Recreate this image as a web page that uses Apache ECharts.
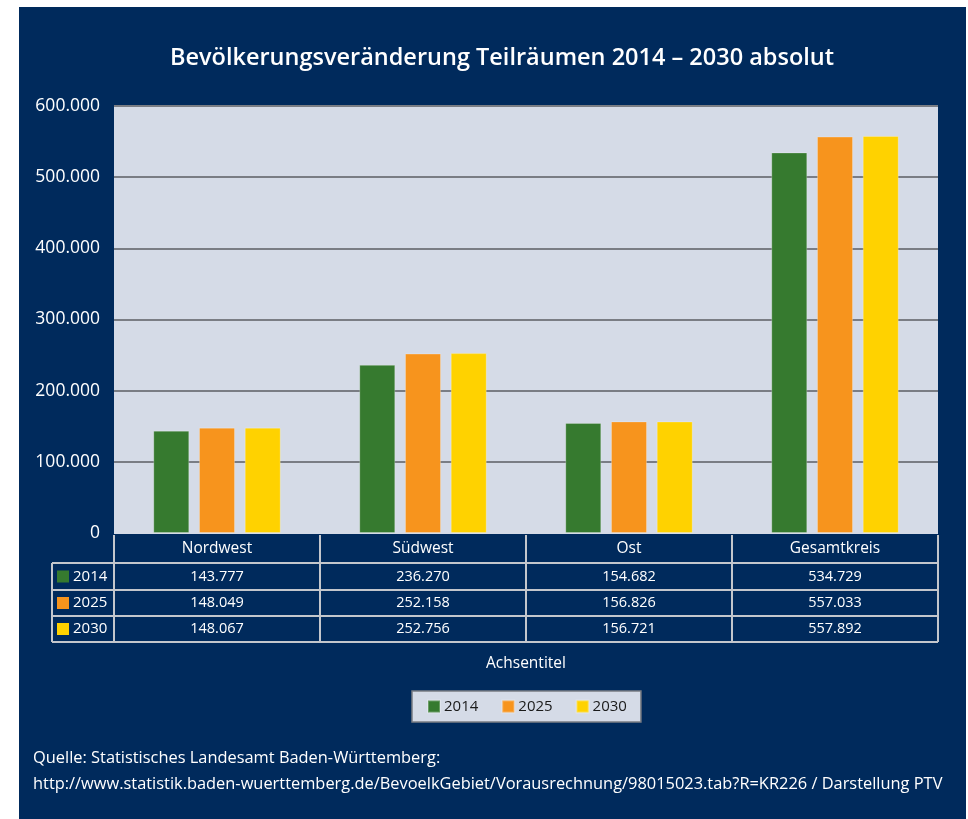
<!DOCTYPE html>
<html><head><meta charset="utf-8">
<script src="https://cdn.jsdelivr.net/npm/echarts@6/dist/echarts.min.js"></script>
<style>
html,body{margin:0;padding:0;background:#fff;width:968px;height:819px;overflow:hidden;}
#c{position:absolute;left:19px;top:7px;width:947px;height:812px;}
</style></head>
<body><div id="c"></div>
<script>
const categories = ['Nordwest', 'Südwest', 'Ost', 'Gesamtkreis'];
const years = ['2014', '2025', '2030'];
const values2014 = [143777, 236270, 154682, 534729];
const values2025 = [148049, 252158, 156826, 557033];
const values2030 = [148067, 252756, 156721, 557892];
const yMin = 0, yMax = 600000, yStep = 100000;
const titleText = 'Bevölkerungsveränderung Teilräumen 2014 – 2030 absolut';
const axisTitle = 'Achsentitel';
const sourceLines = ['Quelle: Statistisches Landesamt Baden-Württemberg:',
  'http://www.statistik.baden-wuerttemberg.de/BevoelkGebiet/Vorausrechnung/98015023.tab?R=KR226 / Darstellung PTV'];

const colors = ['#367a2f', '#f7941d', '#ffd200'];
const NAVY = '#002a5c', PLOT = '#d5dbe7', GRID = '#7a7d84', TLINE = '#c3c6cc';
const FONT = '"Open Sans", "Noto Sans", sans-serif';
const OX = 19, OY = 7;
const fmt = n => String(n).replace(/\B(?=(\d{3})+(?!\d))/g, '.');
const seriesValues = [values2014, values2025, values2030];

const chart = echarts.init(document.getElementById('c'));
const option = {
  backgroundColor: NAVY,
  animation: false,
  textStyle: { fontFamily: FONT },
  grid: { left: 114 - OX, right: 966 - 938, top: 106 - OY, bottom: 819 - 533,
          show: true, backgroundColor: PLOT, borderWidth: 0 },
  legend: {
    data: years, left: 412 - OX, top: 691 - OY, itemWidth: 12, itemHeight: 12, itemGap: 23,
    icon: 'rect', backgroundColor: PLOT, borderColor: GRID, borderWidth: 1.5,
    padding: [8, 14, 8, 15],
    textStyle: { color: '#1a1a1a', fontSize: 15, fontFamily: FONT, padding: [0, 0, 0, -1] }
  },
  xAxis: {
    type: 'category', data: categories,
    axisLine: { show: false }, axisTick: { show: false },
    axisLabel: { color: '#fff', fontSize: 15.5, margin: 8, fontFamily: FONT }
  },
  yAxis: {
    type: 'value', min: yMin, max: yMax, interval: yStep,
    axisLine: { show: false }, axisTick: { show: false },
    axisLabel: { color: '#fff', fontSize: 17.5, margin: 14, formatter: v => fmt(v), fontFamily: FONT },
    splitLine: { lineStyle: { color: [PLOT, GRID, GRID, GRID, GRID, GRID, GRID], width: 2 } }
  },
  series: years.map((y, i) => ({
    name: y, type: 'bar', data: seriesValues[i], barWidth: 36, barGap: '27%',
    itemStyle: { color: colors[i], borderColor: 'rgba(255,255,255,0.25)', borderWidth: 1 }
  }))
};
chart.setOption(option);

// table & texts
const g = [];
function line(x1, y1, x2, y2) {
  g.push({ type: 'line', shape: { x1: x1 - OX, y1: y1 - OY, x2: x2 - OX, y2: y2 - OY },
    style: { stroke: TLINE, lineWidth: 2 }, silent: true });
}
function text(t, x, y, opts) {
  g.push(Object.assign({ type: 'text', x: x - OX, y: y - OY,
    style: Object.assign({ text: t, fill: '#fff', font: '14px ' + FONT, textAlign: 'center', textVerticalAlign: 'middle' }, opts || {}) }));
}
const centers = categories.map((c, i) => chart.convertToPixel({ xAxisIndex: 0 }, i) + OX);
const band = centers.length > 1 ? centers[1] - centers[0] : 206;
const colEdges = [centers[0] - band / 2].concat(centers.map(c => c + band / 2));
const tTop = 535, rowLines = [563, 590, 616, 642], rowCenters = [576.5, 603, 629];
const leftX = 52;
colEdges.forEach(x => line(x, tTop, x, 642));
line(leftX, 563, leftX, 642);
rowLines.forEach(y => line(leftX, y, colEdges[colEdges.length - 1], y));
years.forEach((yr, r) => {
  g.push({ type: 'rect', shape: { x: 57 - OX, y: rowCenters[r] - 6 - OY, width: 12, height: 12 },
    style: { fill: colors[r] } });
  text(yr, 73, rowCenters[r], { textAlign: 'left', font: '15px ' + FONT });
  seriesValues[r].forEach((v, ci) => text(fmt(v), centers[ci], rowCenters[r], { font: '14.5px ' + FONT }));
});
text(titleText, 502, 58, { font: '600 23.5px ' + FONT });
text(axisTitle, 526, 664, { font: '15.5px ' + FONT });
text(sourceLines[0], 33, 758, { textAlign: 'left', font: '16.4px ' + FONT });
text(sourceLines[1], 33, 784, { textAlign: 'left', font: '16.4px ' + FONT });
chart.setOption({ graphic: g });
</script></body></html>
